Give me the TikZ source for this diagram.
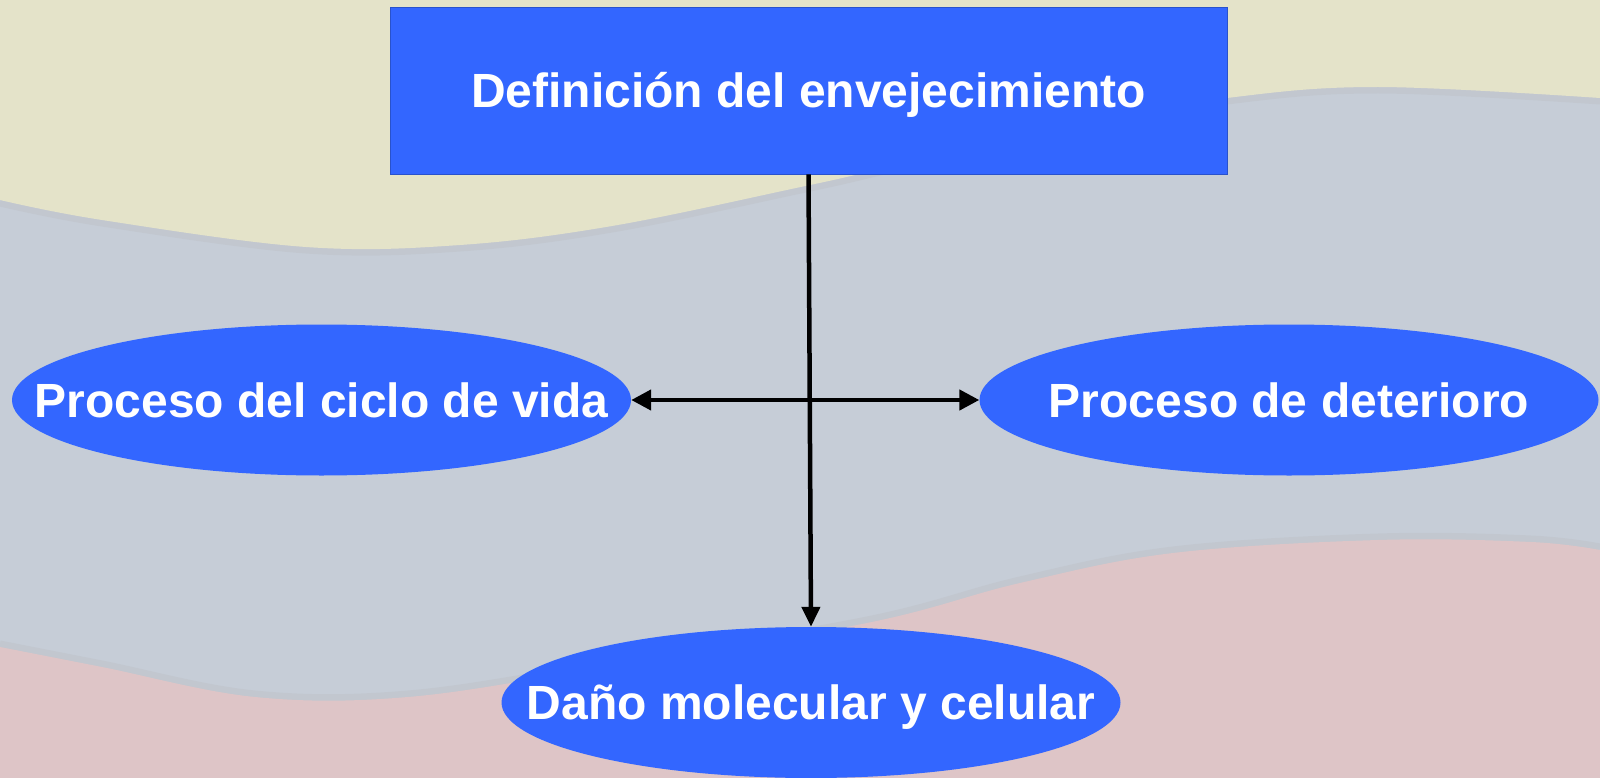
\documentclass[tikz,border=0pt]{standalone}
\usepackage{fontspec}
\setmainfont{Liberation Sans}
\usetikzlibrary{shapes.geometric,arrows.meta}
\definecolor{bgmid}{HTML}{C6CDD7}
\definecolor{bgyel}{HTML}{E4E3C9}
\definecolor{bgpink}{HTML}{DEC5C7}
\definecolor{bgshade}{HTML}{BCBFC4}
\definecolor{boxblue}{HTML}{3366FF}
\tikzset{
  lbl/.style={text=white,font=\fontsize{48}{58}\selectfont\bfseries,text height=34pt,text depth=0pt,inner sep=0pt},
  titlebox/.style={lbl,rectangle,fill=boxblue,draw=boxblue!80!black,line width=0.6pt,minimum width=837pt,minimum height=167pt},
  oval/.style={lbl,ellipse,fill=boxblue,minimum width=619pt,minimum height=151pt},
  conn/.style={line width=4.5pt,black},
  shade/.style={draw=bgshade,line width=7pt,opacity=0.4}
}
\begin{document}
\begin{tikzpicture}[x=1pt,y=-1pt]
\useasboundingbox (0,0) rectangle (1600,778);
\fill[bgmid] (0,0) rectangle (1600,778);
% yellow top band
\path[shade] plot[smooth,tension=0.6] coordinates {(0,203) (102,223) (306,250) (460,248) (612,229) (796,191) (880,172) (1050,130) (1227,101) (1378,90) (1600,101)};
\fill[bgyel] (0,0) -- plot[smooth,tension=0.6] coordinates {(0,200) (102,220) (306,247) (460,245) (612,226) (796,188) (880,169) (1050,127) (1227,98) (1378,87) (1600,98)} -- (1600,0) -- cycle;
% pink bottom band
\path[shade] plot[smooth,tension=0.6] coordinates {(0,644) (102,664) (255,694) (408,694) (600,665) (867,620) (1020,580) (1173,550) (1378,537) (1531,539) (1600,547)};
\fill[bgpink] (0,778) -- plot[smooth,tension=0.6] coordinates {(0,647) (102,667) (255,697) (408,697) (600,668) (867,623) (1020,583) (1173,553) (1378,540) (1531,542) (1600,550)} -- (1600,778) -- cycle;
% nodes
\node[titlebox] (def) at (808.5,90.5) {Definición del envejecimiento};
\node[oval] (ciclo) at (321.5,400) {\makebox[0pt]{Proceso del ciclo de vida}};
\node[oval] (det) at (1289,400) {\makebox[0pt]{Proceso de deterioro}};
\node[oval] (dano) at (811,702.5) {\makebox[0pt]{Daño molecular y celular}};
% connectors
\draw[conn,-{Triangle[length=20pt,width=18pt]}] (def.south) -- (dano.north);
\draw[conn,{Triangle[length=20pt,width=20pt]}-{Triangle[length=20pt,width=20pt]}] (ciclo.east) -- (det.west);
\end{tikzpicture}
\end{document}
